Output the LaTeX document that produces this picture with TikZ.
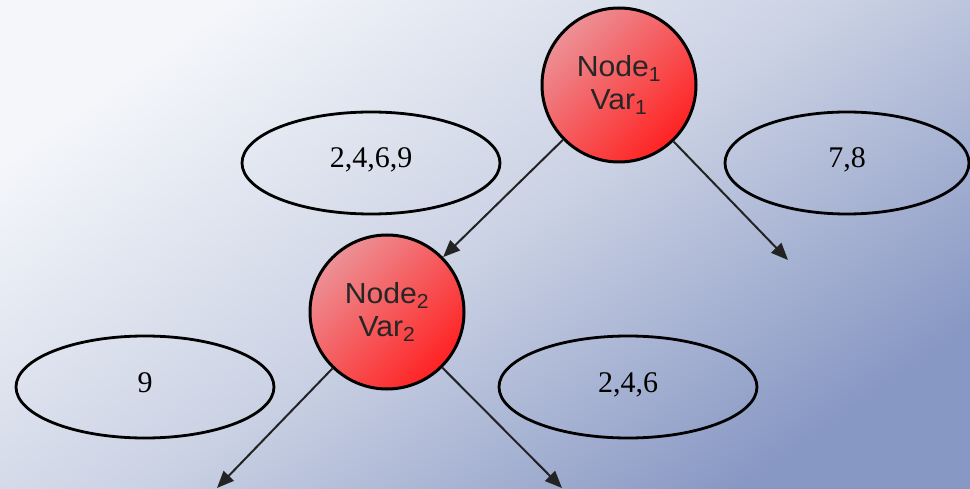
\documentclass[tikz,border=0pt]{standalone}
\usepackage{fontspec}
\setmainfont{Liberation Serif}
\newfontfamily\arialfont[FakeStretch=1.04]{Liberation Sans}
\usetikzlibrary{arrows.meta,shapes.geometric}
\definecolor{bgUL}{RGB}{244,246,250}
\definecolor{bgMid}{RGB}{203,210,228}
\definecolor{bgLR}{RGB}{136,152,196}
\definecolor{redlight}{RGB}{236,145,150}
\definecolor{redmid}{RGB}{246,84,88}
\definecolor{reddeep}{RGB}{255,34,34}
\definecolor{arrowgray}{RGB}{35,35,35}
\pgfdeclarehorizontalshading{bgshade}{100bp}{color(0bp)=(bgUL); color(25bp)=(bgUL); color(50bp)=(bgMid); color(75bp)=(bgLR); color(100bp)=(bgLR)}
\begin{document}
\begin{tikzpicture}[x=1pt,y=-1pt,
  treenode/.style={circle, draw=black, line width=3pt, minimum size=154pt, inner sep=0pt,
    top color=redlight, middle color=redmid, bottom color=reddeep, shading angle=45,
    align=center, text=black!85, font=\arialfont\fontsize{29}{33}\selectfont},
  setnode/.style={ellipse, draw=black, line width=2.8pt, minimum width=258pt, minimum height=102pt,
    inner sep=0pt, text height=20pt, text depth=10pt, font=\fontsize{30}{32}\selectfont},
  arr/.style={draw=arrowgray, line width=2pt, -{Triangle[length=17pt,width=14pt]}}]
\useasboundingbox (0,0) rectangle (970,489);
\shade[shading=bgshade, shading angle=-55] (0,0) rectangle (970,489);

\node[treenode] (n1) at (619,85) {Node\textsubscript{1}\\Var\textsubscript{1}};
\node[treenode] (n2) at (387,312) {Node\textsubscript{2}\\Var\textsubscript{2}};

\node[setnode] (s1) at (371,163) {2,4,6,9};
\node[setnode, minimum width=244pt] (s2) at (847,163) {7,8};
\node[setnode] (s3) at (145,387) {9};
\node[setnode] (s4) at (628,387) {2,4,6};

\coordinate (e1) at (788,260);
\coordinate (e2) at (217,488);
\coordinate (e3) at (562,488);

\draw[arr] (n1) -- (n2);
\draw[arr] (n1) -- (e1);
\draw[arr] (n2) -- (e2);
\draw[arr] (n2) -- (e3);
\end{tikzpicture}
\end{document}
